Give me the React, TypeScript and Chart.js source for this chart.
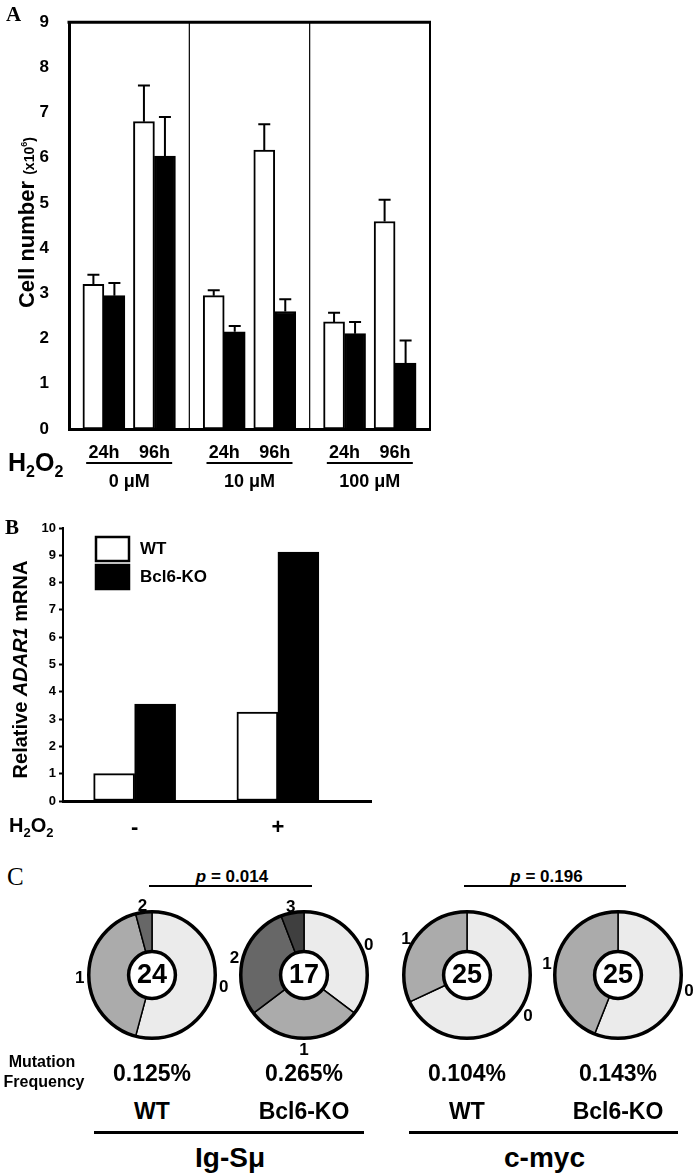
import React, { useEffect, useRef } from 'react';
import { Chart, registerables } from 'chart.js';

Chart.register(...registerables);

const FF = "'Liberation Sans', Arial, Helvetica, sans-serif";
const SERIF = "'Liberation Serif', 'Times New Roman', serif";

// ---------- Panel A data ----------
const concentrations = ['0 \u03bcM', '10 \u03bcM', '100 \u03bcM'];
const timepoints = ['24h', '96h'];
const wtCellNumber = [3.2, 6.8, 2.95, 6.17, 2.37, 4.59];
const wtCellErr = [0.21, 0.8, 0.12, 0.57, 0.2, 0.48];
const koCellNumber = [2.95, 6.04, 2.15, 2.6, 2.11, 1.46];
const koCellErr = [0.28, 0.86, 0.13, 0.27, 0.26, 0.5];
const cellTicks = [0, 1, 2, 3, 4, 5, 6, 7, 8, 9];

// ---------- Panel B data ----------
const treatmentLabels = ['-', '+'];
const wtAdar1 = [1.0, 3.26];
const koAdar1 = [3.55, 9.12];
const seriesNames = ['WT', 'Bcl6-KO'];

// ---------- Panel C data ----------
const mutationClasses = ['0', '1', '2', '3'];
const wtIgSmu = [13, 10, 1];
const koIgSmu = [6, 5, 5, 1];
const wtCmyc = [17, 8];
const koCmyc = [14, 11];
const cloneTotals = [24, 17, 25, 25];
const mutationFrequency = ['0.125%', '0.265%', '0.104%', '0.143%'];
const sampleNames = ['WT', 'Bcl6-KO', 'WT', 'Bcl6-KO'];
const regionNames = ['Ig-S\u03bc', 'c-myc'];
const pValues = ['0.014', '0.196'];
const segmentColors = ['#ebebeb', '#ababab', '#676767', '#3f3f3f'];

// layout helpers
const groupOffsets = [0.29, 0.71];
const xOfA = (i: number) => Math.floor(i / timepoints.length) + groupOffsets[i % timepoints.length];

function drawH2O2(ctx: CanvasRenderingContext2D, x: number, baseline: number, big: number, small: number) {
  ctx.save();
  ctx.fillStyle = '#000';
  ctx.textAlign = 'left';
  ctx.textBaseline = 'alphabetic';
  let xx = x;
  const parts: [string, boolean][] = [['H', false], ['2', true], ['O', false], ['2', true]];
  for (const [t, sub] of parts) {
    ctx.font = `bold ${sub ? small : big}px ${FF}`;
    ctx.fillText(t, xx, baseline + (sub ? big * 0.25 : 0));
    xx += ctx.measureText(t).width;
  }
  ctx.restore();
}

function drawRichRotated(ctx: CanvasRenderingContext2D, cx: number, cy: number, parts: { t: string; f: string; dy: number }[]) {
  ctx.save();
  ctx.translate(cx, cy);
  ctx.rotate(-Math.PI / 2);
  ctx.fillStyle = '#000';
  ctx.textAlign = 'left';
  ctx.textBaseline = 'alphabetic';
  let total = 0;
  for (const p of parts) { ctx.font = p.f; total += ctx.measureText(p.t).width; }
  let xx = -total / 2;
  for (const p of parts) {
    ctx.font = p.f;
    ctx.fillText(p.t, xx, p.dy);
    xx += ctx.measureText(p.t).width;
  }
  ctx.restore();
}

const errorBarPlugin = {
  id: 'errorBars',
  afterDatasetsDraw(chart: any) {
    const { ctx } = chart;
    const y = chart.scales.y;
    chart.data.datasets.forEach((ds: any, di: number) => {
      const meta = chart.getDatasetMeta(di);
      meta.data.forEach((bar: any, i: number) => {
        const v = ds.data[i].y;
        const top = y.getPixelForValue(v + ds.errors[i]);
        ctx.save();
        ctx.strokeStyle = '#000';
        ctx.lineWidth = 2;
        ctx.beginPath();
        ctx.moveTo(bar.x, bar.y);
        ctx.lineTo(bar.x, top);
        ctx.moveTo(bar.x - 6, top);
        ctx.lineTo(bar.x + 6, top);
        ctx.stroke();
        ctx.restore();
      });
    });
  },
};

const panelADecor = {
  id: 'panelADecor',
  afterDraw(chart: any) {
    const { ctx, chartArea: ca } = chart;
    const x = chart.scales.x;
    ctx.save();
    ctx.strokeStyle = '#000';
    ctx.lineWidth = 3;
    ctx.beginPath();
    ctx.moveTo(ca.left - 1.5, ca.top);
    ctx.lineTo(ca.right + 1, ca.top);
    ctx.stroke();
    ctx.lineWidth = 2;
    ctx.beginPath();
    ctx.moveTo(ca.right, ca.top);
    ctx.lineTo(ca.right, ca.bottom);
    ctx.stroke();
    ctx.lineWidth = 1.2;
    for (let g = 1; g < concentrations.length; g++) {
      const px = x.getPixelForValue(g);
      ctx.beginPath();
      ctx.moveTo(px, ca.top);
      ctx.lineTo(px, ca.bottom);
      ctx.stroke();
    }
    // group underline + labels
    ctx.fillStyle = '#000';
    ctx.textAlign = 'center';
    ctx.textBaseline = 'middle';
    ctx.font = `bold 18px ${FF}`;
    concentrations.forEach((lab, g) => {
      const c = x.getPixelForValue(g + 0.5);
      ctx.lineWidth = 2;
      ctx.beginPath();
      ctx.moveTo(c - 43, ca.bottom + 34);
      ctx.lineTo(c + 43, ca.bottom + 34);
      ctx.stroke();
      ctx.fillText(lab, c, ca.bottom + 53);
    });
    ctx.restore();
    drawH2O2(ctx, 8, ca.bottom + 42, 25, 16);
    drawRichRotated(ctx, 34, (ca.top + ca.bottom) / 2 - 3, [
      { t: 'Cell number ', f: `bold 22px ${FF}`, dy: 0 },
      { t: '(x10', f: `bold 14px ${FF}`, dy: 0 },
      { t: '6', f: `bold 9px ${FF}`, dy: -7 },
      { t: ')', f: `bold 14px ${FF}`, dy: 0 },
    ]);
    ctx.save();
    ctx.fillStyle = '#000';
    ctx.font = `bold 21px ${SERIF}`;
    ctx.textAlign = 'left';
    ctx.textBaseline = 'alphabetic';
    ctx.fillText('A', 6, 21);
    ctx.restore();
  },
};

const panelBDecor = {
  id: 'panelBDecor',
  afterDraw(chart: any) {
    const { ctx, chartArea: ca } = chart;
    ctx.save();
    // legend
    const lx = ca.left + 33;
    const ly = ca.top + 9;
    chart.data.datasets.forEach((ds: any, i: number) => {
      const by = ly + i * 28;
      ctx.fillStyle = ds.backgroundColor;
      ctx.fillRect(lx, by, 33, 24);
      ctx.strokeStyle = '#000';
      ctx.lineWidth = 2.5;
      ctx.strokeRect(lx, by, 33, 24);
      ctx.fillStyle = '#000';
      ctx.font = `bold 17px ${FF}`;
      ctx.textAlign = 'left';
      ctx.textBaseline = 'middle';
      ctx.fillText(ds.label, lx + 44, by + 12);
    });
    ctx.fillStyle = '#000';
    ctx.font = `bold 21px ${SERIF}`;
    ctx.textAlign = 'left';
    ctx.textBaseline = 'alphabetic';
    ctx.fillText('B', 5, 34);
    ctx.restore();
    drawH2O2(ctx, 9, ca.bottom + 31, 20, 13);
    drawRichRotated(ctx, 27, (ca.top + ca.bottom) / 2 + 5, [
      { t: 'Relative ', f: `bold 20px ${FF}`, dy: 0 },
      { t: 'ADAR1', f: `italic bold 20px ${FF}`, dy: 0 },
      { t: ' mRNA', f: `bold 20px ${FF}`, dy: 0 },
    ]);
  },
};

function pieDecor(total: number) {
  return {
    id: 'pieDecor',
    afterDatasetsDraw(chart: any) {
      const { ctx } = chart;
      const arcs = chart.getDatasetMeta(0).data;
      const a0 = arcs[0];
      const cx = a0.x, cy = a0.y, R = a0.outerRadius, r = a0.innerRadius;
      ctx.save();
      ctx.strokeStyle = '#000';
      ctx.lineWidth = 3.5;
      ctx.beginPath();
      ctx.arc(cx, cy, R, 0, Math.PI * 2);
      ctx.stroke();
      ctx.fillStyle = '#fff';
      ctx.beginPath();
      ctx.arc(cx, cy, r, 0, Math.PI * 2);
      ctx.fill();
      ctx.stroke();
      ctx.fillStyle = '#000';
      ctx.textAlign = 'center';
      ctx.textBaseline = 'middle';
      ctx.font = `bold 27px ${FF}`;
      ctx.fillText(String(total), cx, cy + 1);
      ctx.font = `bold 17px ${FF}`;
      arcs.forEach((arc: any, i: number) => {
        const mid = (arc.startAngle + arc.endAngle) / 2;
        const rr = R + 9;
        ctx.fillText(chart.data.labels[i], cx + Math.cos(mid) * rr, cy + Math.sin(mid) * rr + 3);
      });
      ctx.restore();
    },
  };
}

function pieConfig(counts: number[], total: number): any {
  return {
    type: 'doughnut',
    data: {
      labels: mutationClasses.slice(0, counts.length),
      datasets: [{
        data: counts,
        backgroundColor: segmentColors.slice(0, counts.length),
        borderColor: '#000',
        borderWidth: 1.5,
      }],
    },
    options: {
      animation: false,
      responsive: false,
      cutout: '37%',
      layout: { padding: 21 },
      plugins: { legend: { display: false }, tooltip: { enabled: false } },
    },
    plugins: [pieDecor(total)],
  };
}

const pieData = [wtIgSmu, koIgSmu, wtCmyc, koCmyc];
const pieCenters = [152, 304, 467, 618];
const pieCy = 975;

const T = (p: { x: number; y: number; size: number; children: any; style?: any }) => (
  <div
    style={{
      position: 'absolute', left: p.x, top: p.y, transform: 'translate(-50%,-50%)',
      fontSize: p.size, fontWeight: 'bold', whiteSpace: 'nowrap', lineHeight: 1, color: '#000',
      ...(p.style || {}),
    }}
  >
    {p.children}
  </div>
);

const Line = (p: { x1: number; x2: number; y: number; w: number }) => (
  <div style={{ position: 'absolute', left: p.x1, top: p.y - p.w / 2, width: p.x2 - p.x1, height: p.w, background: '#000' }} />
);

export default function App() {
  const aRef = useRef<HTMLCanvasElement>(null);
  const bRef = useRef<HTMLCanvasElement>(null);
  const p0 = useRef<HTMLCanvasElement>(null);
  const p1 = useRef<HTMLCanvasElement>(null);
  const p2 = useRef<HTMLCanvasElement>(null);
  const p3 = useRef<HTMLCanvasElement>(null);
  const pieRefs = [p0, p1, p2, p3];

  useEffect(() => {
    const charts: Chart[] = [];
    const tickFontA = { family: FF, size: 17, weight: 'bold' as const };
    charts.push(new Chart(aRef.current!, {
      type: 'bar',
      data: {
        datasets: [
          {
            label: seriesNames[0],
            data: wtCellNumber.map((v, i) => ({ x: xOfA(i), y: v })),
            errors: wtCellErr,
            backgroundColor: '#fff', borderColor: '#000', borderWidth: 2, borderSkipped: false, barThickness: 21,
          } as any,
          {
            label: seriesNames[1],
            data: koCellNumber.map((v, i) => ({ x: xOfA(i), y: v })),
            errors: koCellErr,
            backgroundColor: '#000', borderColor: '#000', borderWidth: 2, barThickness: 21,
          } as any,
        ],
      },
      options: {
        animation: false,
        responsive: false,
        layout: { padding: { top: 15, right: 20, left: 0, bottom: 0 } },
        plugins: { legend: { display: false }, tooltip: { enabled: false } },
        scales: {
          x: {
            type: 'linear', min: 0, max: concentrations.length, offset: false,
            grid: { display: false, offset: false },
            border: { display: true, width: 3, color: '#000' },
            afterBuildTicks: (s: any) => { s.ticks = wtCellNumber.map((_, i) => ({ value: xOfA(i) })); },
            afterFit: (s: any) => { s.height = 71; },
            ticks: {
              autoSkip: false, maxRotation: 0, padding: 5, color: '#000',
              font: { family: FF, size: 18, weight: 'bold' },
              callback: (_v: any, i: number) => timepoints[i % timepoints.length],
            },
          },
          y: {
            min: cellTicks[0], max: cellTicks[cellTicks.length - 1],
            grid: { display: false },
            border: { display: true, width: 3, color: '#000' },
            afterFit: (s: any) => { s.width = 69; },
            afterBuildTicks: (s: any) => { s.ticks = cellTicks.map((v) => ({ value: v })); },
            ticks: { padding: 12, color: '#000', font: tickFontA },
          },
        },
      } as any,
      plugins: [errorBarPlugin, panelADecor],
    }));

    charts.push(new Chart(bRef.current!, {
      type: 'bar',
      data: {
        datasets: [
          {
            label: seriesNames[0],
            data: wtAdar1.map((v, i) => ({ x: i, y: v })),
            backgroundColor: '#fff', borderColor: '#000', borderWidth: 2, borderSkipped: false, barThickness: 41,
          } as any,
          {
            label: seriesNames[1],
            data: koAdar1.map((v, i) => ({ x: i, y: v })),
            backgroundColor: '#000', borderColor: '#000', borderWidth: 2, barThickness: 41,
          } as any,
        ],
      },
      options: {
        animation: false,
        responsive: false,
        layout: { padding: { top: 28, right: 29, left: 0, bottom: 0 } },
        plugins: { legend: { display: false }, tooltip: { enabled: false } },
        scales: {
          x: {
            type: 'linear', min: -0.5, max: 1.65, offset: false,
            grid: { display: false },
            border: { display: true, width: 3, color: '#000' },
            afterBuildTicks: (s: any) => { s.ticks = treatmentLabels.map((_, i) => ({ value: i })); },
            afterFit: (s: any) => { s.height = 39; },
            ticks: {
              autoSkip: false, maxRotation: 0, padding: 6, color: '#000',
              font: { family: FF, size: 22, weight: 'bold' },
              callback: (_v: any, i: number) => treatmentLabels[i],
            },
          },
          y: {
            min: 0, max: 10,
            grid: { display: true, drawOnChartArea: false, drawTicks: true, tickLength: 4, tickWidth: 2, tickColor: '#000' },
            border: { display: true, width: 2, color: '#000' },
            afterFit: (s: any) => { s.width = 63; },
            ticks: { stepSize: 1, padding: 3, color: '#000', font: { family: FF, size: 13, weight: 'bold' } },
          },
        },
      } as any,
      plugins: [panelBDecor],
    }));

    pieRefs.forEach((ref, i) => {
      charts.push(new Chart(ref.current!, pieConfig(pieData[i], cloneTotals[i])));
    });

    return () => charts.forEach((c) => c.destroy());
  }, []);

  return (
    <div style={{ position: 'absolute', left: 0, top: 0, width: 693, height: 1174, overflow: 'hidden', background: '#fff', fontFamily: FF }}>
      <canvas ref={aRef} width={450} height={500} style={{ position: 'absolute', left: 0, top: 0 }} />
      <canvas ref={bRef} width={400} height={340} style={{ position: 'absolute', left: 0, top: 500 }} />

      <div style={{ position: 'absolute', left: 7, top: 864, fontFamily: SERIF, fontSize: 25, lineHeight: 1 }}>C</div>

      {pValues.map((p, k) => {
        const xa = pieCenters[k * 2];
        const xb = pieCenters[k * 2 + 1];
        return (
          <React.Fragment key={'p' + k}>
            <T x={(xa + xb) / 2 + 4} y={876} size={17}><span style={{ fontStyle: 'italic' }}>p</span> = {p}</T>
            <Line x1={xa - 3} x2={xb + 8} y={886} w={1.3} />
          </React.Fragment>
        );
      })}

      {pieRefs.map((ref, i) => (
        <canvas key={'c' + i} ref={ref} width={170} height={170}
          style={{ position: 'absolute', left: pieCenters[i] - 85, top: pieCy - 85 }} />
      ))}

      <T x={42} y={1062} size={16}>Mutation</T>
      <T x={44} y={1082} size={16}>Frequency</T>
      {mutationFrequency.map((f, i) => (
        <T key={'f' + i} x={pieCenters[i]} y={1073} size={23}>{f}</T>
      ))}
      {sampleNames.map((s, i) => (
        <T key={'s' + i} x={pieCenters[i]} y={1111} size={23}>{s}</T>
      ))}
      {regionNames.map((r, k) => {
        const xa = pieCenters[k * 2];
        const xb = pieCenters[k * 2 + 1];
        return (
          <React.Fragment key={'r' + k}>
            <Line x1={xa - 58} x2={xb + 60} y={1132} w={3} />
            <T x={(xa + xb) / 2 + 2} y={1158} size={28}>{r}</T>
          </React.Fragment>
        );
      })}
    </div>
  );
}
